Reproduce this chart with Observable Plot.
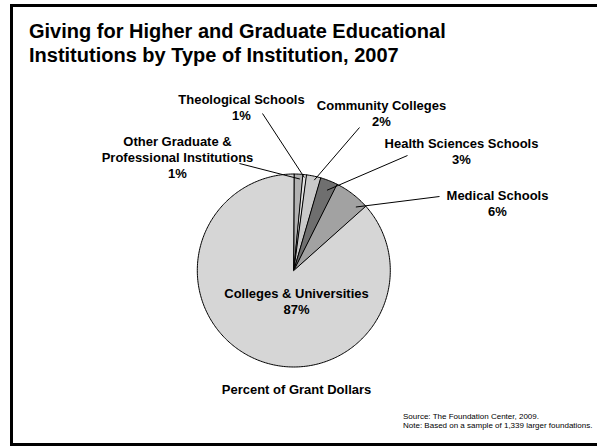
<!DOCTYPE html>
<html>
<head>
<meta charset="utf-8">
<script src="https://cdn.jsdelivr.net/npm/d3@7"></script>
<script src="https://cdn.jsdelivr.net/npm/@observablehq/plot@0.6"></script>
<style>
  html, body { margin: 0; padding: 0; background: #fff; }
  #wrap { position: relative; width: 597px; height: 447px; overflow: hidden; font-family: "Liberation Sans", Arial, sans-serif; }
  #border { position: absolute; left: 10px; top: 4px; width: 600px; height: 436px; border: 3px solid #000; border-right: none; box-sizing: content-box; }
  #title { position: absolute; left: 29px; top: 19px; font-size: 20px; line-height: 24px; font-weight: bold; color: #000; white-space: nowrap; }
  #note { position: absolute; left: 403px; top: 412px; font-size: 8px; line-height: 9px; color: #000; white-space: nowrap; }
  #chart { position: absolute; left: 0; top: 0; }
</style>
</head>
<body>
<div id="wrap">
  <div id="border"></div>
  <div id="chart"></div>
  <div id="title">Giving for Higher and Graduate Educational<br>Institutions by Type of Institution, 2007</div>
  <div id="note">Source: The Foundation Center, 2009.<br>Note: Based on a sample of 1,339 larger foundations.</div>
</div>
<script>
// ---- data ----
const categories = [
  "Other Graduate &\nProfessional Institutions",
  "Theological Schools",
  "Community Colleges",
  "Health Sciences Schools",
  "Medical Schools",
  "Colleges & Universities"
];
const values = [1.5, 0.6, 2.4, 2.9, 6.0, 86.6];
const percentLabels = ["1%", "1%", "2%", "3%", "6%", "87%"];
const sliceColors = ["#b2b2b2", "#e2e2e2", "#c9c9c9", "#6f6f6f", "#a2a2a2", "#d6d6d6"];
const axisTitle = "Percent of Grant Dollars";

// ---- layout (pixels) ----
const cx = 293.3, cy = 270, r = 96.5;
const labelAnchor = [[177, 177], [241, 119], [381, 125], [461, 163.5], [497, 215], [296, 313]];
const leaderStart = [[239, 163], [262, 113], [359, 127], [407, 155], [439, 196], null];
const leaderFrac = [0.7, 0.5, 0.6, 0.6, 0.82, null];
const leaderRad = [0.95, 0.97, 0.96, 0.9, 0.92, null];

const table = categories.map((c, i) => ({name: c, value: values[i], pct: percentLabels[i], color: sliceColors[i], i}));
const arcs = d3.pie().sort(null).value(d => d.value)(table);

const pt = (a, rr) => [cx + rr * Math.sin(a), cy - rr * Math.cos(a)];

const polys = [];
arcs.forEach(a => {
  polys.push({key: a.data.name, color: a.data.color, x: cx, y: cy});
  const n = Math.max(2, Math.ceil((a.endAngle - a.startAngle) / (Math.PI / 180)));
  for (let k = 0; k <= n; k++) {
    const ang = a.startAngle + (a.endAngle - a.startAngle) * k / n;
    const [x, y] = pt(ang, r);
    polys.push({key: a.data.name, color: a.data.color, x, y});
  }
});

const leaders = [];
arcs.forEach((a, i) => {
  if (!leaderStart[i]) return;
  const ang = a.startAngle + (a.endAngle - a.startAngle) * leaderFrac[i];
  const [x2, y2] = pt(ang, r * leaderRad[i]);
  leaders.push({x1: leaderStart[i][0], y1: leaderStart[i][1], x2, y2});
});

const labels = table.map((d, i) => ({text: d.name + "\n" + d.pct, x: labelAnchor[i][0], y: labelAnchor[i][1]}));

const chart = Plot.plot({
  width: 597,
  height: 447,
  margin: 0,
  x: {domain: [0, 597], range: [0, 597], axis: null},
  y: {domain: [0, 447], range: [0, 447], axis: null},
  color: {type: "identity"},
  style: {fontFamily: "'Liberation Sans', Arial, sans-serif", background: "transparent"},
  marks: [
    Plot.line(polys, {x: "x", y: "y", z: "key", fill: "color", stroke: "#000", strokeWidth: 1, curve: "linear-closed"}),
    Plot.link(leaders, {x1: "x1", y1: "y1", x2: "x2", y2: "y2", stroke: "#000", strokeWidth: 1}),
    Plot.text(labels, {x: "x", y: "y", text: "text", lineAnchor: "bottom", lineHeight: 1.23, fontSize: 13, fontWeight: "bold", fill: "#000"}),
    Plot.text([axisTitle], {x: () => 296, y: () => 393, text: d => d, lineAnchor: "bottom", fontSize: 13, fontWeight: "bold", fill: "#000"})
  ]
});
document.getElementById("chart").appendChild(chart);
</script>
</body>
</html>
